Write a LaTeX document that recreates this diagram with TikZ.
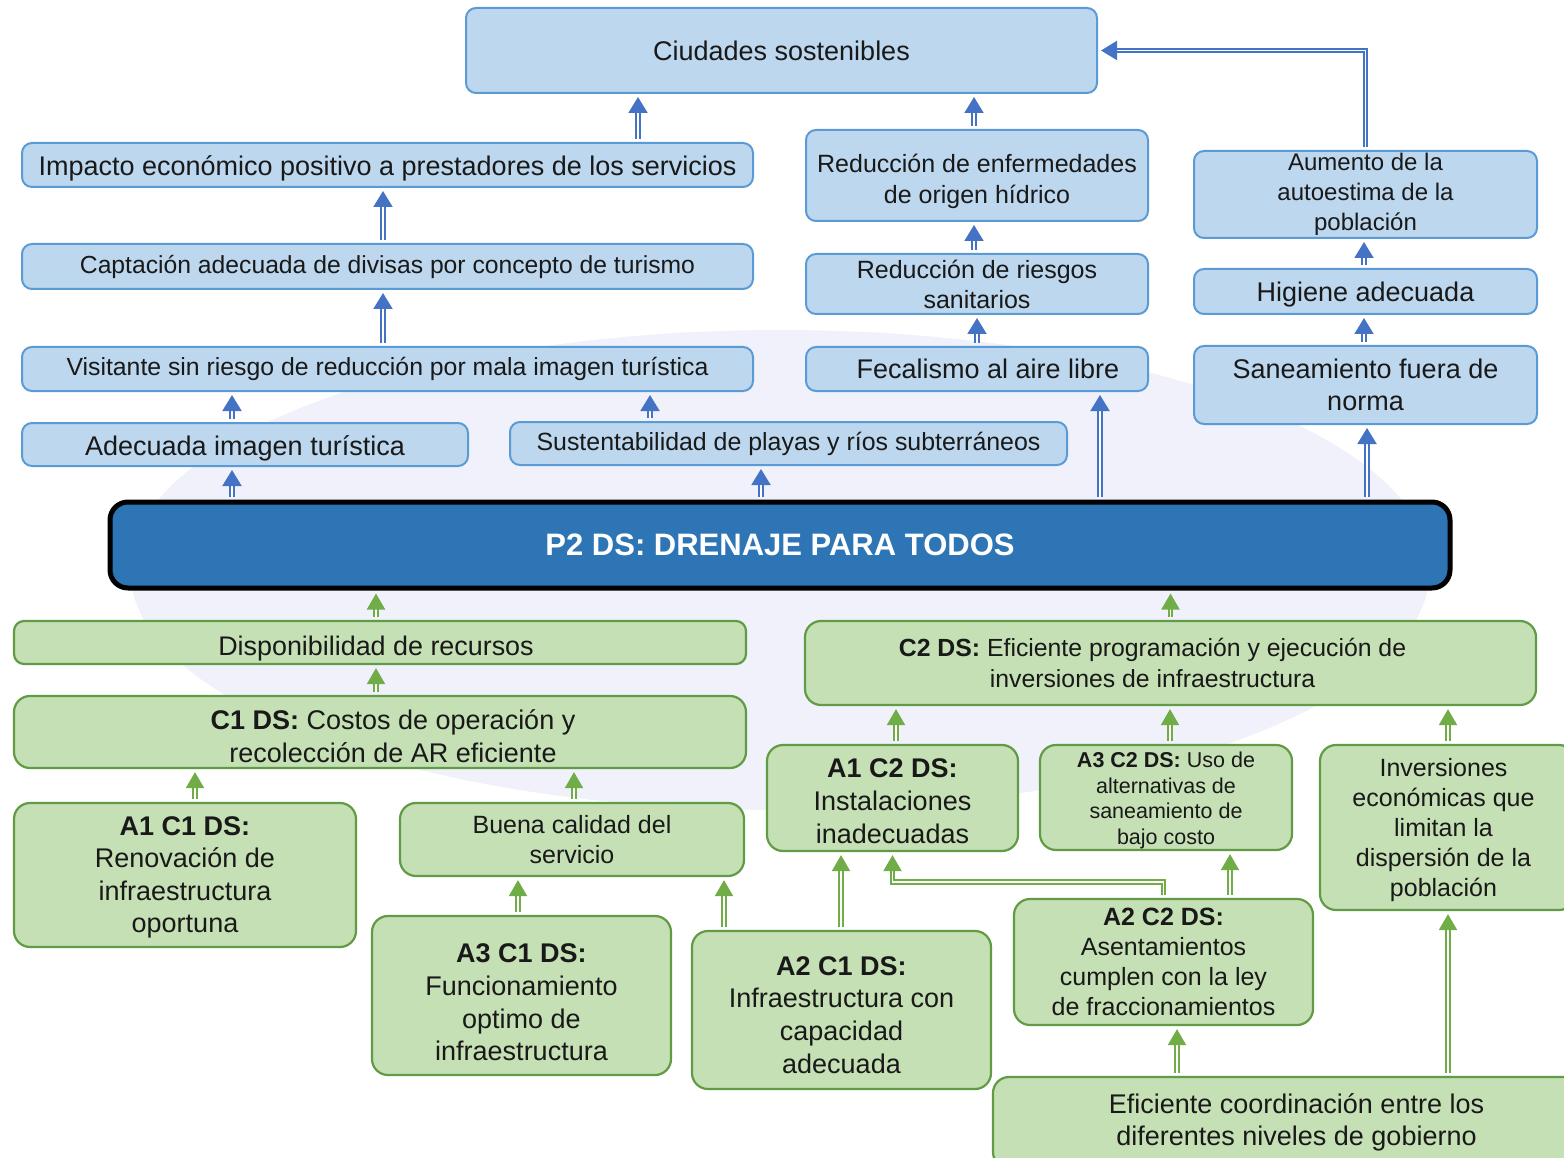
\documentclass[tikz,border=0pt]{standalone}
\usepackage{fontspec}
\setmainfont{Liberation Sans}
\usetikzlibrary{arrows.meta}

\definecolor{boxblue}{HTML}{BDD7EE}
\definecolor{edgeblue}{HTML}{5B9BD5}
\definecolor{arrowblue}{HTML}{4472C4}
\definecolor{mainblue}{HTML}{2E75B6}
\definecolor{boxgreen}{HTML}{C5E0B4}
\definecolor{edgegreen}{HTML}{629B45}
\definecolor{arrowgreen}{HTML}{70AD47}
\definecolor{markbg}{HTML}{F0F1FA}
\newcommand{\fsz}[2]{\fontsize{#1}{#2}\selectfont}
\newcommand{\sh}[1]{\hspace*{#1pt}}

\tikzset{bluebox/.style={draw=edgeblue, fill=boxblue, line width=2pt, rounded corners=10pt,
      inner sep=0pt, align=center, text=black!90},
    greenbox/.style={draw=edgegreen, fill=boxgreen, line width=2.2pt, rounded corners=16pt,
      inner sep=0pt, align=center, text=black!90},
    txt/.style={inner sep=0pt, align=center, text=black!90},
    wh/.style 2 args={minimum width=#1pt, minimum height=#2pt},
    barr/.style={draw=arrowblue, double=white, double distance=1.8pt, line width=2pt,
      -{Triangle[length=16pt,width=19pt]}, shorten <=3pt, shorten >=3pt},
    garr/.style={draw=arrowgreen, double=white, double distance=1.8pt, line width=2pt,
      -{Triangle[length=16pt,width=18pt]}, shorten <=3pt, shorten >=3pt}}

\begin{document}
\begin{tikzpicture}[x=1pt, y=-1pt]
  \useasboundingbox (0,0) rectangle (1564,1158);
  \clip (0,0) rectangle (1564,1158);
  % faint background mark
  \fill[markbg] (780,570) ellipse (650 and 240);

  % effects (blue)
  \node[bluebox, wh={631}{85}, font=\fsz{27}{32}] (ciud) at (781.5,50.5) {Ciudades sostenibles};
  \node[bluebox, wh={731}{44}] (impac) at (387.5,165) {};
  \node[txt, font=\fsz{27}{32}] (impact) at ([yshift=-3pt]impac.center) {Impacto económico positivo a prestadores de los servicios};
  \node[bluebox, wh={342}{91}] (redenf) at (977,175.5) {};
  \node[txt, font=\fsz{25}{31}] (redenft) at ([yshift=-6pt]redenf.center) {Reducción de enfermedades\\de origen hídrico};
  \node[bluebox, wh={343}{87}, font=\fsz{24}{30}] (aument) at (1365.5,194.5) {Aumento de la\\autoestima de la\\población};
  \node[bluebox, wh={731}{45}, font=\fsz{24.7}{29}] (capt) at (387.5,266.5) {Captación adecuada de divisas por concepto de turismo};
  \node[bluebox, wh={342}{60}, font=\fsz{25}{30}] (redries) at (977,284) {Reducción de riesgos\\sanitarios};
  \node[bluebox, wh={343}{45}] (higi) at (1365.5,291.5) {};
  \node[txt, font=\fsz{27}{32}] (higit) at ([yshift=-3pt]higi.center) {Higiene adecuada};
  \node[bluebox, wh={731}{44}, font=\fsz{24.8}{29}] (visit) at (387.5,369) {Visitante sin riesgo de reducción por mala imagen turística};
  \node[bluebox, wh={342}{44}, font=\fsz{27}{32}] (fecal) at (977,369) {\sh{22}Fecalismo al aire libre};
  \node[bluebox, wh={343}{78}, font=\fsz{27}{32}] (sanea) at (1365.5,385) {Saneamiento fuera de\\norma};
  \node[bluebox, wh={446}{43}] (adecim) at (245,444.5) {};
  \node[txt, font=\fsz{27}{32}] (adecimt) at ([yshift=-4pt]adecim.center) {Adecuada imagen turística};
  \node[bluebox, wh={557}{43}, font=\fsz{24.9}{29}] (susten) at (788.5,443.5) {Sustentabilidad de playas y ríos subterráneos};

  % central problem
  \node[draw=black, fill=mainblue, line width=5pt, rounded corners=18pt, wh={1340}{86},
    text=white, font=\bfseries\fsz{31}{36}] (ptwo) at (780,545) {P2 DS: DRENAJE PARA TODOS};

  % causes (green)
  \node[greenbox, rounded corners=10pt, wh={732}{43}] (dispo) at (380,642.5) {};
  \node[txt, font=\fsz{26.9}{31}] (dispot) at ([xshift=-4pt,yshift=-6pt]dispo.center) {Disponibilidad de recursos};
  \node[greenbox, wh={731}{84}, font=\fsz{24.8}{31}] (ctwo) at (1170.5,663) {\textbf{C2 DS:} Eficiente programación y ejecución de\sh{36}\\inversiones de infraestructura\sh{36}};
  \node[greenbox, wh={732}{72}] (cone) at (380,732) {};
  \node[txt, font=\fsz{27}{33}] (conet) at ([xshift=13pt,yshift=-4pt]cone.center) {\textbf{C1 DS:} Costos de operación y\\recolección de AR eficiente};
  \node[greenbox, wh={251}{106}] (aonectwo) at (892.5,798) {};
  \node[txt, font=\fsz{27}{33}] (aonectwot) at ([yshift=-3pt]aonectwo.center) {\textbf{A1 C2 DS:}\\Instalaciones\\inadecuadas};
  \node[greenbox, wh={252}{105}] (athreectwo) at (1166,797.5) {};
  \node[txt, font=\fsz{21.5}{25.7}] (athreectwot) at ([yshift=-3pt]athreectwo.center) {\textbf{A3 C2 DS:} Uso de\\alternativas de\\saneamiento de\\bajo costo};
  \node[greenbox, wh={255}{165}] (inver) at (1447.5,827.5) {};
  \node[txt, font=\fsz{25}{30}] (invert) at ([xshift=-4pt,yshift=-3pt]inver.center) {Inversiones\\económicas que\\limitan la\\dispersión de la\\población};
  \node[greenbox, wh={342}{144}] (aonecone) at (185,875) {};
  \node[txt, font=\fsz{27}{32.5}] (aoneconet) at ([yshift=-2.5pt]aonecone.center) {\textbf{A1 C1 DS:}\\Renovación de\\infraestructura\\oportuna};
  \node[greenbox, wh={344}{73}, font=\fsz{25}{30}] (buena) at (572,839.5) {Buena calidad del\\servicio};
  \node[greenbox, wh={299}{159}] (athreecone) at (521.5,995.5) {};
  \node[txt, font=\fsz{27}{32.7}] (athreeconet) at ([yshift=-7pt]athreecone.center) {\textbf{A3 C1 DS:}\\Funcionamiento\\optimo de\\infraestructura};
  \node[greenbox, wh={299}{158}] (atwocone) at (841.5,1010) {};
  \node[txt, font=\fsz{27}{32.7}] (atwoconet) at ([yshift=-5pt]atwocone.center) {\textbf{A2 C1 DS:}\\Infraestructura con\\capacidad\\adecuada};
  \node[greenbox, wh={299}{126}, font=\fsz{25}{30}] (atwoctwo) at (1163.5,962) {\textbf{A2 C2 DS:}\\Asentamientos\\cumplen con la ley\\de fraccionamientos};
  \node[greenbox, wh={607}{91}, font=\fsz{27}{32}] (efic) at (1296.5,1122.5) {Eficiente coordinación entre los\\diferentes niveles de gobierno};

  % blue arrows
  \draw[barr] (638,0 |- impac.north) -- (638,0 |- ciud.south);
  \draw[barr] (974,0 |- redenf.north) -- (974,0 |- ciud.south);
  \draw[barr] (aument.north) |- (ciud.east);
  \draw[barr] (383,0 |- capt.north) -- (383,0 |- impac.south);
  \draw[barr] (974,0 |- redries.north) -- (974,0 |- redenf.south);
  \draw[barr] (1364,0 |- higi.north) -- (1364,0 |- aument.south);
  \draw[barr] (383,0 |- visit.north) -- (383,0 |- capt.south);
  \draw[barr] (977,0 |- fecal.north) -- (977,0 |- redries.south);
  \draw[barr] (1364,0 |- sanea.north) -- (1364,0 |- higi.south);
  \draw[barr] (232,0 |- adecim.north) -- (232,0 |- visit.south);
  \draw[barr] (650,0 |- susten.north) -- (650,0 |- visit.south);
  \draw[barr] (232,0 |- ptwo.north) -- (232,0 |- adecim.south);
  \draw[barr] (761,0 |- ptwo.north) -- (761,0 |- susten.south);
  \draw[barr] (1100,0 |- ptwo.north) -- (1100,0 |- fecal.south);
  \draw[barr] (1367,0 |- ptwo.north) -- (1367,0 |- sanea.south);

  % green arrows
  \draw[garr] (376,0 |- dispo.north) -- (376,0 |- ptwo.south);
  \draw[garr] (ctwo.north) -- (1170.5,0 |- ptwo.south);
  \draw[garr] (376,0 |- cone.north) -- (376,0 |- dispo.south);
  \draw[garr] (896,0 |- aonectwo.north) -- (896,0 |- ctwo.south);
  \draw[garr] (1170,0 |- athreectwo.north) -- (1170,0 |- ctwo.south);
  \draw[garr] (1448,0 |- inver.north) -- (1448,0 |- ctwo.south);
  \draw[garr] (195,0 |- aonecone.north) -- (195,0 |- cone.south);
  \draw[garr] (574,0 |- buena.north) -- (574,0 |- cone.south);
  \draw[garr] (518,0 |- athreecone.north) -- (518,0 |- buena.south);
  \draw[garr] (724,0 |- atwocone.north) -- (724,0 |- buena.south);
  \draw[garr] (841,0 |- atwocone.north) -- (841,0 |- aonectwo.south);
  \draw[garr] (atwoctwo.north) -- ++(0,-16) -| (aonectwo.south);
  \draw[garr] (1230,0 |- atwoctwo.north) -- (1230,0 |- athreectwo.south);
  \draw[garr] (1177,0 |- efic.north) -- (1177,0 |- atwoctwo.south);
  \draw[garr] (1448,0 |- efic.north) -- (1448,0 |- inver.south);
\end{tikzpicture}
\end{document}
